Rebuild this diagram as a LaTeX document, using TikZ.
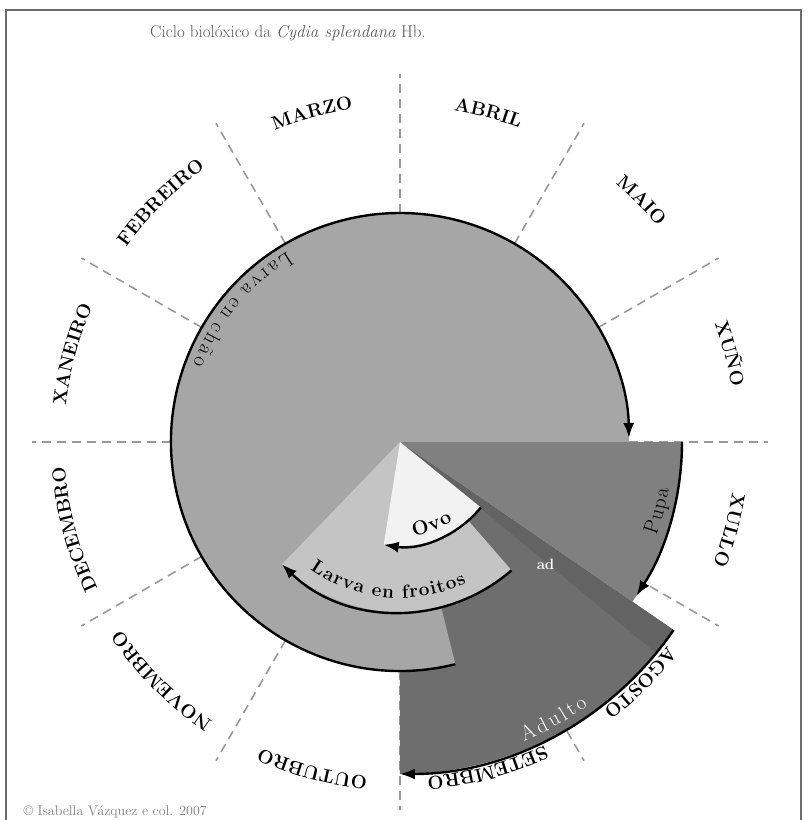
\documentclass[tikz,border=0pt]{standalone}
\usepackage{tikz}
\usetikzlibrary{arrows.meta,decorations.text}
\definecolor{chaogray}{gray}{0.65}
\definecolor{froitogray}{gray}{0.77}
\definecolor{ovogray}{gray}{0.95}
\definecolor{pupagray}{gray}{0.50}
\definecolor{adultgray}{gray}{0.43}
\definecolor{bandgray}{gray}{0.39}
\definecolor{linegray}{gray}{0.60}
\definecolor{titlegray}{gray}{0.35}
\newcommand\monthfont{\fontsize{19}{19}\selectfont\bfseries}
\newcommand\phasefont{\fontsize{21}{21}\selectfont}
% extra tracking between letters of the phase names
\newcommand\wk{\kern3pt}
\newcommand\mk{\kern1.5pt}
\newcommand\nk{\kern1.2pt}
\tikzset{
  cycle arrow/.style={line width=2.4pt, -{Latex[length=15pt,width=11pt]}},
  month line/.style={linegray, line width=1.6pt, dash pattern=on 9pt off 6pt},
}
% month name set along an arc, tops outward
\newcommand\monthlabel[2]{%
  \path[decorate, decoration={text along path, text align=center,
    text={|\monthfont|#2}}]
    ({#1+25}:336) arc[start angle=#1+25, end angle=#1-25, radius=336];}

\begin{document}
\begin{tikzpicture}[x=1pt, y=1pt]
\useasboundingbox (-400,-378) rectangle (408,442);
% Frame and title
\draw[gray!85!black, line width=2pt] (-394,-390) -- (-394,432) -- (401,432) -- (401,-390);
\node[font=\fontsize{17}{17}\selectfont, text=titlegray] (title) at (-112,409)
  {Ciclo biolóxico da \textit{Cydia splendana} Hb.};
% Month dividers
\foreach \a in {0,30,...,330}{
  \draw[month line] (\a:229) -- (\a:368);
}
% Month names, clockwise from January
\foreach \m [count=\i] in {XANEIRO,FEBREIRO,MARZO,ABRIL,MAIO,XUÑO,XULLO,AGOSTO,SETEMBRO,OUTUBRO,NOVEMBRO,DECEMBRO}{
  \pgfmathsetmacro\ang{195-30*\i}
  \edef\monthcall{\noexpand\monthlabel{\ang}{\m}}\monthcall
}
% Phases of the cycle
\fill[adultgray] (0,0) -- (-34.5:332) arc[start angle=-34.5, end angle=-90, radius=332] -- cycle;
\fill[bandgray] (0,0) -- (-34.5:332) arc[start angle=-34.5, end angle=-39.5, radius=332] -- cycle;
\fill[chaogray] (0,0) -- (0:229) arc[start angle=0, end angle=284, radius=229] -- cycle;
\fill[pupagray] (0,0) -- (0:282) arc[start angle=0, end angle=-34.5, radius=282] -- cycle;
\fill[froitogray] (0,0) -- (-49:170) arc[start angle=-49, end angle=-134, radius=170] -- cycle;
\fill[ovogray] (0,0) -- (-39:104) arc[start angle=-39, end angle=-99, radius=104] -- cycle;
% Arrows
\draw[cycle arrow] (284:229) arc[start angle=284, end angle=1, radius=229];
\draw[cycle arrow] (0:282) arc[start angle=0, end angle=-33, radius=282];
\draw[cycle arrow] (-34.5:332) arc[start angle=-34.5, end angle=-90, radius=332];
\draw[cycle arrow] (-39:104) arc[start angle=-39, end angle=-99, radius=104];
\draw[cycle arrow] (-49:170) arc[start angle=-49, end angle=-134, radius=170];
% Phase names
\path[decorate, decoration={text along path, text align=center,
  text={|\phasefont|{L\wk}{a\wk}{r\wk}{v\wk}{a\wk} {e\wk}{n\wk} {c\wk}{h\wk}{ã\wk}{o}}}]
  (95:221) arc[start angle=95, end angle=185, radius=221];
\path[decorate, decoration={text along path, text align=center,
  text={|\phasefont|{P\mk}{u\mk}{p\mk}{a}}}]
  (-45:273) arc[start angle=-45, end angle=15, radius=273];
\path[decorate, decoration={text along path, text align=center, text color=white,
  text={|\phasefont|{A\wk}{d\wk}{u\wk}{l\wk}{t\wk}{o}}}]
  (-92:324) arc[start angle=-92, end angle=-30, radius=324];
\path[decorate, decoration={text along path, text align=center,
  text={|\fontsize{20}{20}\selectfont\bfseries|{O\nk}{v\nk}{o}}}]
  (-100:95) arc[start angle=-100, end angle=-38, radius=95];
\path[decorate, decoration={text along path, text align=center,
  text={|\fontsize{19}{19}\selectfont\bfseries|{L\nk}{a\nk}{r\nk}{v\nk}{a\nk} {e\nk}{n\nk} {f\nk}{r\nk}{o\nk}{i\nk}{t\nk}{o\nk}{s}}}]
  (-132:156) arc[start angle=-132, end angle=-58, radius=156];
\node[text=white, font=\fontsize{15}{15}\selectfont\bfseries] (ad) at (-40:190) {ad};
% Credit
\node[anchor=west, text=gray, font=\fontsize{14}{14}\selectfont] (credit) at (-380,-370)
  {\textcopyright\ Isabella Vázquez e col. 2007};
\end{tikzpicture}
\end{document}
